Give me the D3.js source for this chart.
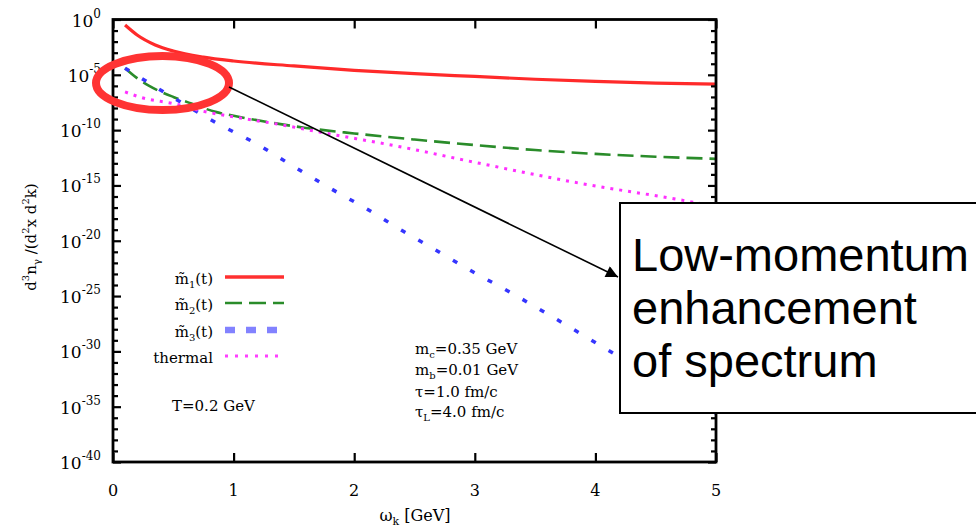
<!DOCTYPE html>
<html><head><meta charset="utf-8">
<script src="https://cdn.jsdelivr.net/npm/d3@7"></script>
<style>
body{margin:0;background:#fff}
svg{display:block}
text{font-family:"DejaVu Serif",serif;fill:#000}
</style>
</head><body>
<svg id="c" width="976" height="528"></svg>
<script>
// ---- data (log10 of d^3n/(d^2x d^2k) vs omega_k in GeV) ----
const xTickValues = [0, 1, 2, 3, 4, 5];
const yMajorExps = [0, -5, -10, -15, -20, -25, -30, -35, -40];

const m1Omega = [0.1, 0.2, 0.35, 0.5, 0.75, 1, 1.5, 2, 2.5, 3, 3.5, 4, 4.5, 5];
const m1Log10 = [-0.5, -1.4, -2.3, -2.85, -3.4, -3.75, -4.2, -4.6, -4.9, -5.15, -5.4, -5.6, -5.75, -5.85];

const m2Omega = [0.1, 0.2, 0.3, 0.4, 0.5, 0.65, 0.85, 1, 1.3, 1.6, 2, 2.5, 3, 3.5, 4, 4.5, 5];
const m2Log10 = [-4.4, -5.3, -6.0, -6.55, -7.0, -7.6, -8.35, -8.7, -9.3, -9.8, -10.3, -10.85, -11.35, -11.8, -12.15, -12.4, -12.6];

const m3Omega = [0.1, 0.3, 0.55, 0.85, 1.2, 1.5, 1.8, 2.1, 2.4, 2.7, 3.0, 3.3, 3.6, 4.2, 5];
const m3Log10 = [-4.4, -5.75, -7.4, -9.3, -11.3, -13.3, -15.25, -17.1, -19.1, -21.0, -22.9, -24.7, -26.6, -30.5, -35.6];

const thOmega = [0.1, 0.25, 0.5, 0.75, 1, 1.36, 1.8, 2.38, 3.04, 3.87, 4.7, 5];
const thLog10 = [-6.55, -7.1, -7.6, -8.3, -8.8, -9.45, -10.35, -11.5, -13.0, -14.8, -16.3, -16.9];

const legendNames = ["1", "2", "3", "thermal"];
const paramLines = [["m","c","=0.35 GeV"],["m","b","=0.01 GeV"],["τ","","=1.0 fm/c"],["τ","L","=4.0 fm/c"]];
const tempLabel = "T=0.2 GeV";
const noteLines = ["Low-momentum", "enhancement", "of spectrum"];

// ---- layout ----
const L = 113, R = 716, T = 19.5, B = 462;
const svg = d3.select("#c");
const x = d3.scaleLinear().domain([0, 5]).range([L, R]);
const y = d3.scaleLog().domain([1e-40, 1]).range([B, T]);

svg.append("defs").append("clipPath").attr("id", "clip")
  .append("rect").attr("x", L).attr("y", T).attr("width", R - L).attr("height", B - T);

const series = [
  {om: m1Omega, lg: m1Log10, color: "#ff2a2a", w: 3.2, dash: null},
  {om: m2Omega, lg: m2Log10, color: "#2a8c2a", w: 2.6, dash: "16,7"},
  {om: m3Omega, lg: m3Log10, color: "#3535ff", w: 3.5, dash: "5,15"},
  {om: thOmega, lg: thLog10, color: "#ff30ff", w: 3, dash: "3,6"}
];
const line = d3.line().x(d => x(d[0])).y(d => y(Math.pow(10, d[1]))).curve(d3.curveMonotoneX);
const gCurves = svg.append("g").attr("clip-path", "url(#clip)");
series.forEach(s => {
  const pts = s.om.map((o, i) => [o, s.lg[i]]);
  gCurves.append("path").attr("d", line(pts)).attr("fill", "none")
    .attr("stroke", s.color).attr("stroke-width", s.w)
    .attr("stroke-dasharray", s.dash);
});

// ---- axes ----
const majors = yMajorExps.map(e => Math.pow(10, e));
const minors = d3.range(-40, 1).filter(e => e % 5 !== 0).map(e => Math.pow(10, e));
function styleAxis(g){ g.select(".domain").remove(); g.selectAll(".tick line").attr("stroke", "#000").attr("stroke-width", 2.2); g.selectAll("text").remove(); }
svg.append("g").attr("transform", `translate(${L},0)`).call(d3.axisLeft(y).tickValues(majors).tickSize(-8).tickFormat(() => "")).call(styleAxis);
svg.append("g").attr("transform", `translate(${L},0)`).call(d3.axisLeft(y).tickValues(minors).tickSize(-5).tickFormat(() => "")).call(styleAxis);
svg.append("g").attr("transform", `translate(${R},0)`).call(d3.axisRight(y).tickValues(majors).tickSize(-8).tickFormat(() => "")).call(styleAxis);
svg.append("g").attr("transform", `translate(${R},0)`).call(d3.axisRight(y).tickValues(minors).tickSize(-5).tickFormat(() => "")).call(styleAxis);
svg.append("g").attr("transform", `translate(0,${B})`).call(d3.axisBottom(x).tickValues(xTickValues).tickSize(-9).tickFormat(() => "")).call(styleAxis);
svg.append("g").attr("transform", `translate(0,${T})`).call(d3.axisTop(x).tickValues(xTickValues).tickSize(-9).tickFormat(() => "")).call(styleAxis);
svg.append("rect").attr("x", L).attr("y", T).attr("width", R - L).attr("height", B - T)
  .attr("fill", "none").attr("stroke", "#000").attr("stroke-width", 2.8);

// y tick labels
yMajorExps.forEach(e => {
  const t = svg.append("text").attr("x", 101).attr("y", y(Math.pow(10, e)) + 7)
    .attr("text-anchor", "end").attr("font-size", 17);
  t.append("tspan").text("10");
  t.append("tspan").attr("font-size", 12).attr("dy", -9).text(String(e));
});
// x tick labels
xTickValues.forEach(v => {
  svg.append("text").attr("x", x(v)).attr("y", 496).attr("text-anchor", "middle")
    .attr("font-size", 16).text(v);
});
// x title
const xt = svg.append("text").attr("x", 415).attr("y", 521).attr("text-anchor", "middle").attr("font-size", 16);
xt.append("tspan").text("ω");
xt.append("tspan").attr("font-size", 11).attr("dy", 4).text("k");
xt.append("tspan").attr("dy", -4).text(" [GeV]");
// y title
const yt = svg.append("text").attr("transform", "translate(36,237) rotate(-90)")
  .attr("text-anchor", "middle").attr("font-size", 15);
yt.append("tspan").text("d");
yt.append("tspan").attr("font-size", 10).attr("dy", -7).text("3");
yt.append("tspan").attr("dy", 7).text("n");
yt.append("tspan").attr("font-size", 10).attr("dy", 4).text("γ");
yt.append("tspan").attr("dy", -4).text(" /(d");
yt.append("tspan").attr("font-size", 10).attr("dy", -7).text("2");
yt.append("tspan").attr("dy", 7).text("x d");
yt.append("tspan").attr("font-size", 10).attr("dy", -7).text("2");
yt.append("tspan").attr("dy", 7).text("k)");

// ---- legend ----
const legY = [277, 303, 330, 356];
const legStyles = [
  {color: "#ff3030", w: 3.5, dash: null},
  {color: "#2a8c2a", w: 2.6, dash: "17,7"},
  {color: "#8282ff", w: 6.5, dash: "10,11"},
  {color: "#ff40ff", w: 3, dash: "3,7"}
];
legendNames.forEach((n, i) => {
  const t = svg.append("text").attr("x", 213).attr("y", legY[i] + 7).attr("text-anchor", "end").attr("font-size", 15);
  if (n === "thermal") { t.text("thermal"); }
  else {
    t.append("tspan").text("m\u0303");
    t.append("tspan").attr("font-size", 10).attr("dy", 4).text(n);
    t.append("tspan").attr("dy", -4).text("(t)");
  }
  svg.append("line").attr("x1", 225).attr("x2", 284).attr("y1", legY[i]).attr("y2", legY[i])
    .attr("stroke", legStyles[i].color).attr("stroke-width", legStyles[i].w)
    .attr("stroke-dasharray", legStyles[i].dash);
});

// parameters
const pY = [354, 375, 397, 417];
paramLines.forEach((p, i) => {
  const t = svg.append("text").attr("x", 415).attr("y", pY[i]).attr("font-size", 15);
  t.append("tspan").text(p[0]);
  if (p[1]) {
    t.append("tspan").attr("font-size", 10).attr("dy", 4).text(p[1]);
    t.append("tspan").attr("dy", -4).text(p[2]);
  } else t.append("tspan").text(p[2]);
});
svg.append("text").attr("x", 172).attr("y", 411).attr("font-size", 15).text(tempLabel);

// ---- annotation ----
svg.append("ellipse").attr("cx", 162.5).attr("cy", 83).attr("rx", 66.5).attr("ry", 27)
  .attr("fill", "none").attr("stroke", "#ff3333").attr("stroke-width", 8);
const defs = svg.select("defs");
defs.append("marker").attr("id", "ah").attr("viewBox", "0 0 10 10").attr("refX", 10).attr("refY", 5)
  .attr("markerWidth", 16).attr("markerHeight", 12).attr("markerUnits", "userSpaceOnUse").attr("orient", "auto")
  .append("path").attr("d", "M0,0 L10,5 L0,10 Z").attr("fill", "#000");
svg.append("line").attr("x1", 229).attr("y1", 87).attr("x2", 618).attr("y2", 277)
  .attr("stroke", "#000").attr("stroke-width", 1.6).attr("marker-end", "url(#ah)");
svg.append("rect").attr("x", 620).attr("y", 203).attr("width", 400).attr("height", 210)
  .attr("fill", "#fff").attr("stroke", "#000").attr("stroke-width", 2);
const noteY = [271, 324, 377];
noteLines.forEach((s, i) => {
  svg.append("text").attr("x", 632).attr("y", noteY[i]).attr("font-size", 47)
    .style("font-family", "'Liberation Sans', Arial, sans-serif").text(s);
});
</script>
</body></html>
